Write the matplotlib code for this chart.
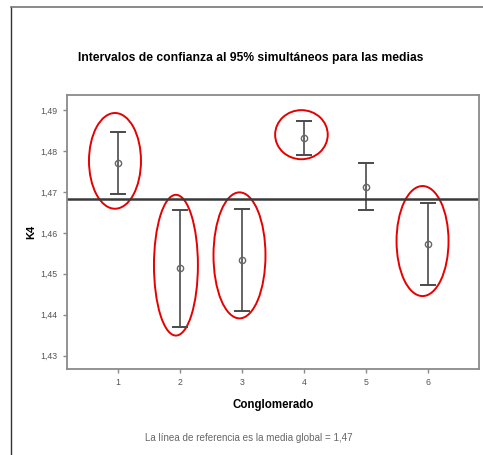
import matplotlib
matplotlib.use('Agg')
import matplotlib.pyplot as plt
from matplotlib.patches import Ellipse
from matplotlib.lines import Line2D

plt.rcParams['font.family'] = ['Liberation Sans', 'DejaVu Sans']

# datos
grupos = [1, 2, 3, 4, 5, 6]
medias = [1.4772, 1.4513, 1.4534, 1.4831, 1.4713, 1.4572]
lim_inf = [1.4695, 1.4369, 1.4409, 1.4790, 1.4656, 1.4472]
lim_sup = [1.4847, 1.4656, 1.4659, 1.4873, 1.4770, 1.4672]
media_global = 1.4684
yticks = [1.43, 1.44, 1.45, 1.46, 1.47, 1.48, 1.49]

# elipses rojas marcadas a mano (x, y, ancho, alto)
elipses = [
    (0.947, 1.4776, 0.84, 0.0234),
    (1.932, 1.4521, 0.71, 0.0344),
    (2.959, 1.4545, 0.84, 0.0308),
    (3.960, 1.4840, 0.85, 0.0120),
    (5.917, 1.4580, 0.84, 0.0269),
]

fig = plt.figure(figsize=(4.83, 4.55), dpi=100)
ax = fig.add_axes([0.138, 0.1897, 0.8543, 0.6015])

err_lo = [m - l for m, l in zip(medias, lim_inf)]
err_hi = [u - m for m, u in zip(medias, lim_sup)]
ax.errorbar(grupos, medias, yerr=[err_lo, err_hi], fmt='none',
            ecolor='#4a4a4a', elinewidth=1.2, capsize=5.8, capthick=1.4)
ax.plot(grupos, medias, 'o', mfc='none', mec='#666666', ms=4.5, mew=1.0)
ax.axhline(media_global, color='#3a3a3a', lw=1.8)

for (cx, cy, w, h) in elipses:
    ax.add_patch(Ellipse((cx, cy), w, h, fill=False, ec='#e60000', lw=1.4))

ax.set_xlim(0.166, 6.834)
ax.set_ylim(1.4268, 1.4937)
ax.set_xticks(grupos)
ax.set_yticks(yticks)
ax.set_yticklabels([('%.2f' % v).replace('.', ',') for v in yticks])
for s in ax.spines.values():
    s.set_color('#8a8a8a')
    s.set_linewidth(1.3)
ax.tick_params(colors='#8a8a8a', labelcolor='#555555', labelsize=6.3,
               length=3, width=1.0)

ax.set_xlabel('Conglomerado', fontsize=8.3, fontweight='bold', labelpad=9)
ax.set_ylabel('K4', fontsize=8.0, fontweight='bold', labelpad=3)
fig.text(0.518, 0.872, 'Intervalos de confianza al 95% simultáneos para las medias',
         ha='center', va='center', fontsize=8.7, fontweight='bold')
fig.text(0.516, 0.038, 'La línea de referencia es la media global = 1,47',
         ha='center', va='center', fontsize=7.1, color='#666666')

# marco exterior
fig.add_artist(Line2D([0.0238, 0.0238], [0, 0.985], color='#333333', lw=1.0))
fig.add_artist(Line2D([0.0238, 1.0], [0.985, 0.985], color='#777777', lw=1.2))

fig.savefig('out.png', dpi=100)
